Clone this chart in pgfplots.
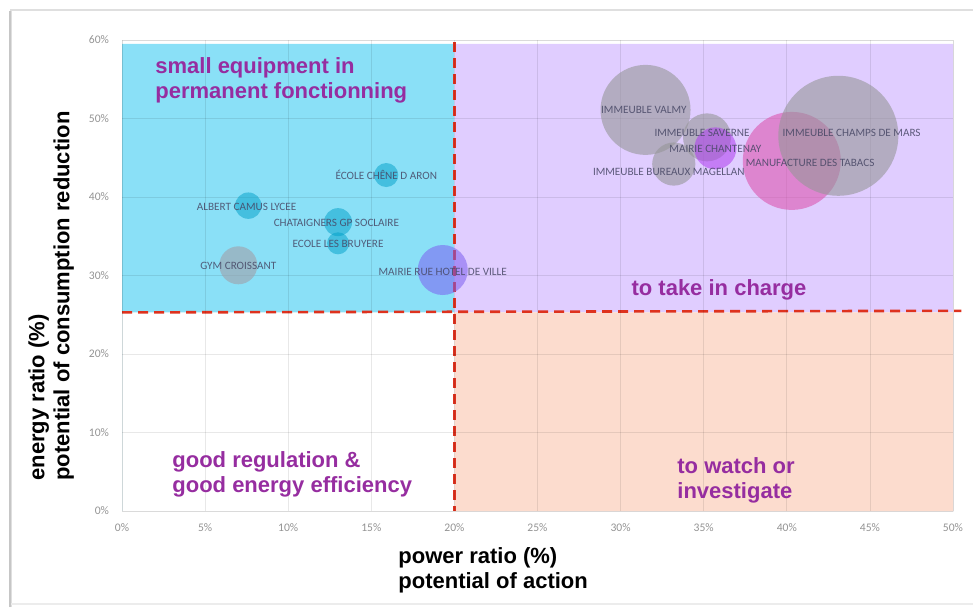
\documentclass[border=0pt]{standalone}
\usepackage{pgfplots}
\pgfplotsset{compat=1.18}
\usepackage{fontspec}
\setmainfont{Liberation Sans}
\newfontfamily\carlito{Carlito}
\definecolor{qblue}{RGB}{138,224,247}
\definecolor{qpurple}{RGB}{224,205,255}
\definecolor{qsalmon}{RGB}{252,220,206}
\definecolor{qred}{RGB}{222,50,30}
\definecolor{qtext}{RGB}{150,45,160}
\definecolor{bteal}{RGB}{0,160,200}
\definecolor{bgrey}{RGB}{150,150,152}
\definecolor{bgym}{RGB}{160,160,170}
\definecolor{bviolet}{RGB}{125,95,240}
\definecolor{bpink}{RGB}{220,85,175}
\definecolor{bmauve}{RGB}{175,60,240}
\definecolor{lbl}{RGB}{70,70,100}
\pgfplotsset{bubble/.style={only marks, mark=*, color=#1, draw opacity=0, mark options={draw opacity=0}}}
\begin{document}
\begin{tikzpicture}[x=1pt,y=1pt]
\useasboundingbox (0,0) rectangle (486.5,303.5);
% frame of the screenshot
\draw[gray!25, line width=0.8pt] (5.5,0) -- (5.5,298.5) -- (486.5,298.5);
\draw[gray!45, line width=1.2pt] (5,0) -- (5,298);
\draw[gray!15, line width=0.6pt] (5.5,1.5) -- (486.5,1.5);
\begin{axis}[
  at={(61pt,48pt)}, anchor=south west,
  scale only axis, width=415.5pt, height=235.5pt,
  xmin=0, xmax=50, ymin=0, ymax=60,
  clip=false, axis on top,
  xtick={0,5,...,50}, ytick={0,10,...,60},
  xticklabels={0\%,5\%,10\%,15\%,20\%,25\%,30\%,35\%,40\%,45\%,50\%},
  yticklabels={0\%,10\%,20\%,30\%,40\%,50\%,60\%},
  tick style={draw=none}, major tick length=0pt,
  xticklabel style={font=\carlito\fontsize{5.8}{6}\selectfont, text=gray!85, yshift=-3pt},
  yticklabel style={font=\carlito\fontsize{5.8}{6}\selectfont, text=gray!85, xshift=-3pt},
  grid=major,
  major grid style={black, opacity=0.09, line width=0.4pt},
  axis line style={black, opacity=0.06},
]
% quadrant fills
\addplot[draw=none, fill=qblue] coordinates {(0,25.3) (20,25.3) (20,59.5) (0,59.5)} \closedcycle;
\addplot[draw=none, fill=qpurple] coordinates {(20,25.3) (50,25.3) (50,59.5) (20,59.5)} \closedcycle;
\addplot[draw=none, fill=qsalmon] coordinates {(20,0) (50,0) (50,25.3) (20,25.3)} \closedcycle;
% dashed separators
\addplot[qred, line width=1.3pt, dash pattern=on 5pt off 3pt] coordinates {(0,25.3) (50.5,25.5)};
\addplot[qred, line width=1.3pt, dash pattern=on 5pt off 3pt] coordinates {(20,59.7) (20,0)};
% bubbles
\addplot[bubble=bteal, mark size=6pt, fill opacity=0.5] coordinates {(15.9,42.8)};
\addplot[bubble=bteal, mark size=6.6pt, fill opacity=0.5] coordinates {(7.6,38.9)};
\addplot[bubble=bteal, mark size=7pt, fill opacity=0.5] coordinates {(13.0,36.8)};
\addplot[bubble=bteal, mark size=5.5pt, fill opacity=0.5] coordinates {(13.0,34.1)};
\addplot[bubble=bgym, mark size=9.5pt, fill opacity=0.6] coordinates {(7.0,31.3)};
\addplot[bubble=bviolet, mark size=12.5pt, fill opacity=0.55] coordinates {(19.3,30.7)};
\addplot[bubble=bgrey, mark size=22.5pt, fill opacity=0.6] coordinates {(31.5,51.1)};
\addplot[bubble=bgrey, mark size=12pt, fill opacity=0.6] coordinates {(35.2,47.6)};
\addplot[bubble=bgrey, mark size=10.8pt, fill opacity=0.6] coordinates {(33.2,44.2)};
\addplot[bubble=bmauve, mark size=10.5pt, fill opacity=0.55] coordinates {(35.7,46.2)};
\addplot[bubble=bpink, mark size=24.5pt, fill opacity=0.6] coordinates {(40.3,44.6)};
\addplot[bubble=bgrey, mark size=30pt, fill opacity=0.6] coordinates {(43.1,47.8)};
% bubble labels
\addplot[only marks, mark=*, mark size=0pt, mark options={draw opacity=0, fill opacity=0},
  nodes near coords, point meta=explicit symbolic, nodes near coords align={center},
  every node near coord/.append style={anchor=center, inner sep=0pt, font=\carlito\fontsize{5.6}{6}\selectfont, text=lbl, text opacity=0.85}]
  table[col sep=comma, meta=label] {
x,y,label
15.9,42.8,ÉCOLE CHÊNE D ARON
7.5,38.7,ALBERT CAMUS LYCEE
12.9,36.7,CHATAIGNERS GP SOCLAIRE
13.0,34.0,ECOLE LES BRUYERE
7.0,31.2,GYM CROISSANT
19.3,30.4,MAIRIE RUE HOTEL DE VILLE
31.4,51.1,IMMEUBLE VALMY
34.9,48.2,IMMEUBLE SAVERNE
35.7,46.1,MAIRIE CHANTENAY
32.9,43.2,IMMEUBLE BUREAUX MAGELLAN
41.4,44.3,MANUFACTURE DES TABACS
43.9,48.2,IMMEUBLE CHAMPS DE MARS
};
\end{axis}
% quadrant labels
\begin{scope}[every node/.style={inner sep=0pt, text=qtext, font=\bfseries\fontsize{11}{12.5}\selectfont, align=left}]
\node[anchor=north west] at (77.5,275) {small equipment in\\permanent fonctionning};
\node[anchor=north west] at (86,78) {good regulation \&\\good energy efficiency};
\node[anchor=base] at (359.5,156) {to take in charge};
\node[anchor=north west] at (338.5,75) {to watch or\\investigate};
\end{scope}
% axis titles
\node[anchor=north west, inner sep=0pt, align=left, font=\bfseries\fontsize{11}{12.5}\selectfont] at (199,30) {power ratio (\%)\\potential of action};
\node[anchor=north west, rotate=90, inner sep=0pt, align=left, font=\bfseries\fontsize{11}{12.5}\selectfont] at (14,63) {energy ratio (\%)\\potential of consumption reduction};
\end{tikzpicture}
\end{document}
